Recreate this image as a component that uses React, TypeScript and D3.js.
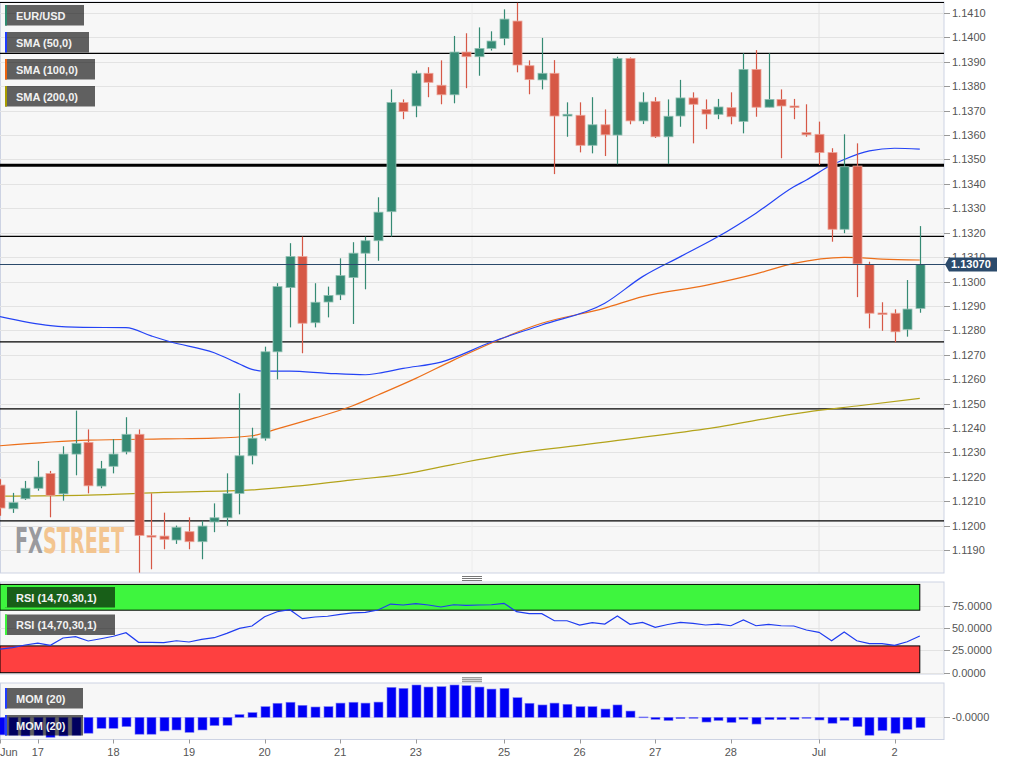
import React from 'react';
import * as d3 from 'd3';

// ---- Candles (4h) ----
const opens = [1.12166,1.12069,1.1211,1.12153,1.12213,1.1213,1.12293,1.12341,1.12162,1.12243,1.12302,1.12374,1.11959,1.11957,1.11941,1.11975,1.11934,1.12015,1.12032,1.12132,1.12286,1.12358,1.12712,1.12975,1.13102,1.12831,1.12916,1.12945,1.13016,1.13116,1.13167,1.13286,1.13733,1.13719,1.13853,1.13804,1.13765,1.1394,1.13921,1.13955,1.13996,1.14067,1.13884,1.13826,1.13853,1.13678,1.13681,1.13558,1.13642,1.136,1.13914,1.13658,1.13738,1.13593,1.13678,1.13752,1.13705,1.13685,1.13712,1.13656,1.13869,1.13714,1.13746,1.13719,1.1361,1.13603,1.13528,1.13214,1.13473,1.1307,1.12871,1.1287,1.12804,1.1289];
const highs = [1.1219,1.12134,1.12183,1.12265,1.12224,1.12325,1.12471,1.12394,1.12265,1.12354,1.12444,1.12394,1.12132,1.12053,1.12,1.12034,1.1202,1.12091,1.12214,1.12542,1.12401,1.12733,1.12993,1.13157,1.13184,1.12993,1.12979,1.13095,1.13161,1.13184,1.13345,1.13787,1.13746,1.13864,1.13878,1.13906,1.14006,1.14017,1.14041,1.14025,1.14115,1.14142,1.13906,1.13998,1.13907,1.13734,1.13734,1.13755,1.13705,1.13921,1.13918,1.13775,1.13755,1.13746,1.13826,1.13775,1.13746,1.13748,1.13775,1.13935,1.13948,1.13935,1.13787,1.13748,1.13726,1.13655,1.13546,1.13603,1.13566,1.13081,1.12915,1.12886,1.13006,1.13227];
const lows = [1.1204,1.12052,1.12105,1.12143,1.12034,1.12102,1.12206,1.12132,1.12153,1.12214,1.12292,1.11807,1.11821,1.11903,1.11925,1.11903,1.11862,1.11973,1.11999,1.12046,1.12251,1.12348,1.12599,1.12812,1.12706,1.12812,1.12853,1.12924,1.12826,1.12968,1.13085,1.13184,1.13665,1.13673,1.13755,1.13726,1.1373,1.13792,1.13843,1.13946,1.13968,1.13857,1.13767,1.13787,1.1344,1.13593,1.13529,1.13525,1.13514,1.1348,1.13644,1.13645,1.13588,1.13481,1.13634,1.13566,1.13624,1.13665,1.13644,1.13607,1.13675,1.13714,1.13505,1.13665,1.13593,1.13477,1.13163,1.13198,1.12936,1.12808,1.12798,1.12751,1.12774,1.12872];
const closes = [1.12072,1.12094,1.12153,1.12199,1.12124,1.12293,1.12337,1.12163,1.12233,1.12293,1.12374,1.1196,1.11955,1.11944,1.11993,1.11934,1.11998,1.12032,1.12131,1.12286,1.12358,1.12712,1.12979,1.13102,1.12829,1.12915,1.12943,1.13024,1.13116,1.13167,1.13284,1.13733,1.13696,1.13853,1.13816,1.13765,1.1394,1.13921,1.13955,1.13985,1.14075,1.13887,1.13827,1.13853,1.13678,1.13685,1.13558,1.13642,1.13601,1.13914,1.13658,1.13735,1.13593,1.13677,1.13752,1.13726,1.13686,1.13715,1.13675,1.13869,1.13714,1.13746,1.13719,1.13714,1.13601,1.13528,1.13214,1.1347,1.13072,1.1287,1.12866,1.12794,1.12887,1.1307];

// ---- Moving averages (candle index, value) ----
const sma50Idx = [0,4,6.6,10,12,13.5,17,19,20,21,23,26,29,30,32,35,39,43,48,51,54,57,60,63,64,66,67,69,71,73];
const sma50Val = [1.12856,1.12819,1.12812,1.12811,1.12777,1.12753,1.12708,1.12662,1.1264,1.12633,1.12633,1.12624,1.12618,1.12624,1.12644,1.1267,1.12752,1.12822,1.12911,1.1302,1.13102,1.13184,1.1328,1.13388,1.13416,1.13477,1.135,1.13535,1.13546,1.13542];
const sma100Idx = [0,7,13,17,20,22,25,28,30,33,36,43,48,51,56,60,63,67,68,70,73];
const sma100Val = [1.12327,1.1235,1.12355,1.12358,1.12368,1.12396,1.12441,1.12491,1.12535,1.12603,1.12678,1.12829,1.12891,1.12938,1.12984,1.13031,1.13074,1.13099,1.13098,1.13092,1.13088];
const sma200Idx = [0,7,13,20,24,28,32,36,40,48,56,64,68,73];
const sma200Val = [1.12121,1.12125,1.12136,1.12146,1.12164,1.12187,1.12211,1.12251,1.12289,1.12342,1.12396,1.12465,1.1249,1.12521];

// ---- Indicators ----
const rsiValues = [26.5,28,31,33,30.7,38.9,40.3,35.5,38,40.8,44.8,34,34,33.6,35.8,34.4,37.4,39.2,44.1,49.7,52.3,62.7,68.3,70.5,60.5,62.4,63.2,65.4,66.9,67.6,70.2,76.9,75.8,77.3,75.8,73.6,76.1,75.5,75.8,76.1,77.7,68.3,66.1,66.1,58.2,58.2,53.4,56,54.5,63.5,54.2,56.4,50.8,54,56.4,55.3,53.4,54.5,52.6,59,52.6,54.2,52.6,52.3,47.8,45.2,35.8,45.6,35.8,32.5,32.5,30.7,34.7,41.1];
const momValues = [-0.0104,-0.0106,-0.011,-0.0106,-0.0118,-0.011,-0.0106,-0.0094,-0.0065,-0.0065,-0.0055,-0.01,-0.01,-0.0081,-0.0075,-0.0089,-0.0075,-0.0049,-0.0047,0.0016,0.0028,0.0063,0.0083,0.0089,0.0071,0.0061,0.0063,0.0084,0.0089,0.0084,0.009,0.0177,0.0171,0.0191,0.0179,0.0181,0.0191,0.0187,0.0179,0.0167,0.0171,0.0116,0.0083,0.0073,0.0084,0.0077,0.0063,0.0063,0.0049,0.0073,0.0037,0.0002,-0.0012,-0.0019,-0.0008,-0.0006,-0.0028,-0.0019,-0.003,-0.0012,-0.004,-0.0014,-0.0014,-0.0012,-0.0006,-0.0016,-0.0035,-0.0018,-0.0055,-0.0106,-0.0078,-0.0094,-0.0071,-0.0061];

// ---- Levels & ticks ----
const levelLines = [1.14144, 1.13935, 1.13185, 1.12753, 1.12478, 1.12019];
const strongLevel = 1.13476;
const lastPrice = 1.1307;
const lastPriceLabel = '1.13070';
const priceTicks = [1.119,1.12,1.121,1.122,1.123,1.124,1.125,1.126,1.127,1.128,1.129,1.13,1.131,1.132,1.133,1.134,1.135,1.136,1.137,1.138,1.139,1.14,1.141];
const rsiTicks = [0, 25, 50, 75];
const rsiTickLabels = ['0.0000', '25.0000', '50.0000', '75.0000'];
const dayTickIdx = [0, 3, 9, 15, 21, 27, 33, 40, 46, 52, 58, 65, 71];
const dayTickLabels = ['Jun', '17', '18', '19', '20', '21', '23', '25', '26', '27', '28', 'Jul', '2'];

const FONT = 'Liberation Sans, Arial, sans-serif';
const GREEN = '#358a74';
const RED = '#d65846';

export default function App() {
  const PW = 944;
  const x = d3.scaleLinear().domain([0, 73]).range([0, 919.8]);
  const y = d3.scaleLinear().domain([1.119, 1.141]).range([550, 13]);
  const yR = d3.scaleLinear().domain([0, 100]).range([672.7, 583.4]);
  const yM = d3.scaleLinear().domain([-0.013, 0.0201]).range([739.3, 683.3]);

  const smaLine = (idx: number[], vals: number[]) =>
    d3.line<number>().x((_, i) => x(idx[i])).y((v) => y(v)).curve(d3.curveMonotoneX)(vals) || '';
  const rsiPath = d3.line<number>().x((_, i) => x(i)).y((v) => yR(v))(rsiValues) || '';

  const legend = (yTop: number, w: number, label: string, color: string) => (
    <g key={label + yTop}>
      <rect x={5} y={yTop} width={w} height={20.5} fill="#000" fillOpacity={0.61} />
      <rect x={5} y={yTop} width={2} height={20.5} fill={color} />
      <text x={16} y={yTop + 14.5} fill="#f2f2f2" fontSize={11} fontWeight="bold" fontFamily={FONT}>{label}</text>
    </g>
  );

  const handle = (cy: number) => (
    <g stroke="#777" strokeWidth={1}>
      {[-2, 0, 2].map((d) => <line key={d} x1={462} x2={482} y1={cy + d + 0.5} y2={cy + d + 0.5} />)}
    </g>
  );

  return (
    <div style={{ position: 'absolute', left: 0, top: 0 }}>
      <svg width={1015} height={765} style={{ display: 'block', background: '#fff' }} fontFamily={FONT}>
        <defs>
          <clipPath id="mainClip"><rect x={0} y={2} width={PW} height={571} /></clipPath>
          <clipPath id="rsiClip"><rect x={0} y={582} width={PW} height={92} /></clipPath>
          <clipPath id="momClip"><rect x={0} y={683} width={PW} height={56.5} /></clipPath>
        </defs>

        {/* ===== MAIN PANEL ===== */}
        <rect x={0.5} y={2} width={PW - 0.5} height={571} fill="#f7f7f7" stroke="#cdd3e3" />
        <g clipPath="url(#mainClip)">
          {priceTicks.map((t) => (
            <line key={t} x1={0} x2={PW} y1={Math.round(y(t)) + 0.5} y2={Math.round(y(t)) + 0.5} stroke="#e3e3e3" />
          ))}
          <line x1={472} x2={472} y1={2} y2={573} stroke="#ececec" />
          <line x1={x(65)} x2={x(65)} y1={2} y2={573} stroke="#e2e2e2" />

          {/* logo */}
          <text x={15} y={553} fontSize={35} fontWeight="bold" fontFamily="DejaVu Sans Condensed, DejaVu Sans" textLength={109} lengthAdjust="spacingAndGlyphs">
            <tspan fill="#9a9a9e">FX</tspan><tspan fill="#f3c590">STREET</tspan>
          </text>

          {levelLines.map((l) => (
            <line key={l} x1={0} x2={PW} y1={y(l)} y2={y(l)} stroke="#000" strokeWidth={1.3} />
          ))}
          <line x1={0} x2={PW} y1={y(strongLevel)} y2={y(strongLevel)} stroke="#000" strokeWidth={3} />

          {/* SMAs */}
          <path d={smaLine(sma200Idx, sma200Val)} fill="none" stroke="#b3a31a" strokeWidth={1.2} />
          <path d={smaLine(sma100Idx, sma100Val)} fill="none" stroke="#ec6f1a" strokeWidth={1.2} />
          <path d={smaLine(sma50Idx, sma50Val)} fill="none" stroke="#2443f5" strokeWidth={1.2} />

          {/* candles */}
          {opens.map((o, i) => {
            const c = closes[i];
            const up = c >= o;
            const col = up ? GREEN : RED;
            const cx = Math.round(x(i)) + 0.5;
            const top = y(Math.max(o, c));
            const bot = y(Math.min(o, c));
            return (
              <g key={i}>
                <line x1={cx} x2={cx} y1={y(highs[i])} y2={y(lows[i])} stroke={col} strokeWidth={1.2} />
                <rect x={cx - 4.5} y={top} width={9} height={Math.max(1.5, bot - top)} fill={col}
                  stroke={up ? '#8fbfb1' : '#eca397'} strokeWidth={0.8} />
              </g>
            );
          })}

          <line x1={0} x2={PW} y1={Math.round(y(lastPrice)) + 0.5} y2={Math.round(y(lastPrice)) + 0.5} stroke="#2b4a6b" />
        </g>

        {legend(5, 79, 'EUR/USD', '#2e8b6e')}
        {legend(32, 84, 'SMA (50,0)', '#1f3cff')}
        {legend(59, 90, 'SMA (100,0)', '#ec6410')}
        {legend(86, 90, 'SMA (200,0)', '#a89c00')}

        {/* price axis */}
        {priceTicks.map((t) => (
          <g key={t}>
            <line x1={PW} x2={PW + 6} y1={Math.round(y(t)) + 0.5} y2={Math.round(y(t)) + 0.5} stroke="#999" />
            <text x={952} y={y(t) + 4} fontSize={11} fill="#555">{t.toFixed(4)}</text>
          </g>
        ))}
        <line x1={PW} x2={948} y1={Math.round(y(lastPrice)) + 0.5} y2={Math.round(y(lastPrice)) + 0.5} stroke="#2b4a6b" />
        <path d={`M945,${y(lastPrice)} L949,${y(lastPrice) - 7} L997,${y(lastPrice) - 7} L997,${y(lastPrice) + 7} L949,${y(lastPrice) + 7} Z`} fill="#2b4a6b" />
        <text x={951} y={y(lastPrice) + 4} fontSize={11} fontWeight="bold" fill="#fff">{lastPriceLabel}</text>

        {handle(578)}

        {/* ===== RSI PANEL ===== */}
        <rect x={0.5} y={582} width={PW - 0.5} height={92} fill="#f7f7f7" stroke="#cdd3e3" />
        <g clipPath="url(#rsiClip)">
          {rsiTicks.map((t) => (
            <line key={t} x1={0} x2={PW} y1={Math.round(yR(t)) + 0.5} y2={Math.round(yR(t)) + 0.5} stroke="#e3e3e3" />
          ))}
          <line x1={x(65)} x2={x(65)} y1={582} y2={674} stroke="#e2e2e2" />
          <rect x={0} y={yR(100) + 1} width={x(73)} height={yR(70) - yR(100) - 1} fill="#3ef53e" stroke="#000" strokeWidth={1} />
          <rect x={0} y={yR(30)} width={x(73)} height={yR(0) - yR(30)} fill="#fe4040" stroke="#000" strokeWidth={1} />
          <path d={rsiPath} fill="none" stroke="#1f3cf0" strokeWidth={1.2} />
        </g>
        {legend(587, 110, 'RSI (14,70,30,1)', '#3ef53e')}
        {legend(614.5, 110, 'RSI (14,70,30,1)', '#3ef53e')}
        {rsiTicks.map((t, i) => (
          <g key={t}>
            <line x1={PW} x2={PW + 6} y1={Math.round(yR(t)) + 0.5} y2={Math.round(yR(t)) + 0.5} stroke="#999" />
            <text x={952} y={yR(t) + 4} fontSize={11} fill="#555">{rsiTickLabels[i]}</text>
          </g>
        ))}

        {handle(679.3)}

        {/* ===== MOM PANEL ===== */}
        <rect x={0.5} y={683} width={PW - 0.5} height={56.5} fill="#f7f7f7" stroke="#cdd3e3" />
        <g clipPath="url(#momClip)">
          <line x1={0} x2={PW} y1={Math.round(yM(0)) + 0.5} y2={Math.round(yM(0)) + 0.5} stroke="#e3e3e3" />
          <line x1={x(65)} x2={x(65)} y1={683} y2={739} stroke="#e2e2e2" />
          {momValues.map((v, i) => {
            const cx = Math.round(x(i)) + 0.5;
            const y0 = yM(0);
            const y1 = yM(v);
            return (
              <rect key={i} x={cx - 4.5} y={Math.min(y0, y1)} width={9} height={Math.max(0.8, Math.abs(y1 - y0))}
                fill="#0000f5" stroke="#7f7ff5" strokeWidth={0.6} />
            );
          })}
        </g>
        {legend(688, 78, 'MOM (20)', '#1f3cff')}
        {legend(715, 78, 'MOM (20)', '#1f3cff')}
        <line x1={PW} x2={PW + 6} y1={Math.round(yM(0)) + 0.5} y2={Math.round(yM(0)) + 0.5} stroke="#999" />
        <text x={952} y={yM(0) + 4} fontSize={11} fill="#555">-0.0000</text>

        {/* x axis */}
        {dayTickIdx.map((t, i) => (
          <g key={t}>
            <line x1={Math.round(x(t)) + 0.5} x2={Math.round(x(t)) + 0.5} y1={739.5} y2={743.5} stroke="#999" />
            <text x={i === 0 ? 0 : x(t)} y={756} fontSize={11} fill="#555" textAnchor={i === 0 ? 'start' : 'middle'}>{dayTickLabels[i]}</text>
          </g>
        ))}
      </svg>
    </div>
  );
}
